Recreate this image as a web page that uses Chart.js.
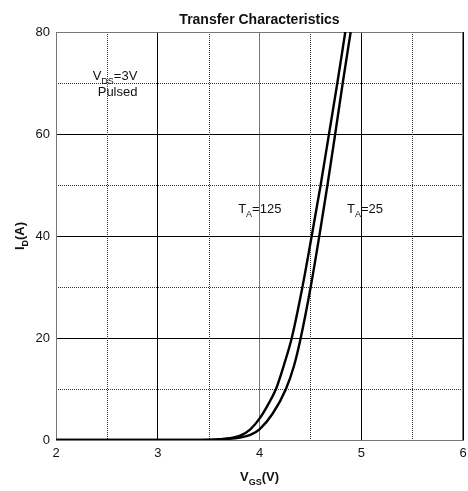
<!DOCTYPE html>
<html>
<head>
<meta charset="utf-8">
<script src="https://cdn.jsdelivr.net/npm/chart.js@4/dist/chart.umd.min.js"></script>
<style>
  html, body { margin: 0; padding: 0; background: #fff; }
  #wrap { width: 468px; height: 491px; }
</style>
</head>
<body>
<div id="wrap"><canvas id="myChart" width="468" height="491"></canvas></div>
<script>
// V_GS (V) / I_D (A) points for each ambient temperature
const vgs125 = [2.0, 3.0, 3.4, 3.61, 3.81, 3.91, 4.0, 4.08, 4.162, 4.24, 4.317, 4.422, 4.513, 4.601, 4.683, 4.765, 4.843];
const id125  = [0,   0,   0.02, 0.15, 0.85, 2.1, 4.2, 6.8, 10,   14.7, 20,    30,    40,    50,    60,    70,    80];
const vgs25  = [2.0, 3.0, 3.45, 3.61, 3.81, 3.91, 4.0, 4.13, 4.26, 4.34, 4.405, 4.503, 4.588, 4.668, 4.744, 4.818, 4.896];
const id25   = [0,   0,   0.02, 0.1,  0.5,  1.0,  2.1, 5.2,  10,   14.6, 20,    30,    40,    50,    60,    70,    80];

const xTicks = [2, 3, 4, 5, 6];
const yTicks = [0, 20, 40, 60, 80];
const xMinor = [2.5, 3.5, 4.5, 5.5];
const yMinor = [10, 30, 50, 70];

function toPoints(xs, ys){
  let out = [];
  for(let i=0; i<xs.length; i++){
    out.push({x: xs[i], y: ys[i]});
  }
  return out;
}

// draws text pieces, some of them as subscripts
function subText(ctx, x, y, parts, size, bold){
  let cx = x;
  for(const p of parts){
    const s = p[1] ? Math.round(size*0.7) : size;
    ctx.font = (bold ? 'bold ' : '') + s + 'px "Liberation Sans", Arial, sans-serif';
    ctx.fillText(p[0], cx, p[1] ? y + size*0.3 : y);
    cx += ctx.measureText(p[0]).width;
  }
  return cx - x;
}

function subWidth(ctx, parts, size, bold){
  let w = 0;
  for(const p of parts){
    const s = p[1] ? Math.round(size*0.7) : size;
    ctx.font = (bold ? 'bold ' : '') + s + 'px "Liberation Sans", Arial, sans-serif';
    w += ctx.measureText(p[0]).width;
  }
  return w;
}

const minorGrid = {
  id: 'minorGrid',
  beforeDatasetsDraw(chart){
    const ctx = chart.ctx;
    const a = chart.chartArea;
    const sx = chart.scales.x, sy = chart.scales.y;
    ctx.save();
    ctx.strokeStyle = '#333';
    ctx.lineWidth = 1;
    ctx.setLineDash([1, 1]);
    ctx.beginPath();
    xMinor.forEach(v=>{
      const px = Math.round(sx.getPixelForValue(v)) + 0.5;
      ctx.moveTo(px, a.top); ctx.lineTo(px, a.bottom);
    });
    yMinor.forEach(v=>{
      const py = Math.round(sy.getPixelForValue(v)) + 0.5;
      ctx.moveTo(a.left, py); ctx.lineTo(a.right, py);
    });
    ctx.stroke();
    ctx.restore();
  }
};

const labels = {
  id: 'labels',
  afterDraw(chart){
    const ctx = chart.ctx;
    const a = chart.chartArea;
    const sx = chart.scales.x, sy = chart.scales.y;
    ctx.save();
    ctx.fillStyle = '#111';
    ctx.textBaseline = 'alphabetic';
    ctx.textAlign = 'left';

    // title
    ctx.font = 'bold 14px "Liberation Sans", Arial, sans-serif';
    ctx.textAlign = 'center';
    ctx.fillText('Transfer Characteristics', (a.left + a.right)/2, 24);
    ctx.textAlign = 'left';

    // x axis title
    const xt = [['V', false], ['GS', true], ['(V)', false]];
    const xw = subWidth(ctx, xt, 13, true);
    subText(ctx, (a.left + a.right)/2 - xw/2, 481, xt, 13, true);

    // y axis title, rotated
    const yt = [['I', false], ['D', true], ['(A)', false]];
    const yw = subWidth(ctx, yt, 13, true);
    ctx.save();
    ctx.translate(24, (a.top + a.bottom)/2 + yw/2);
    ctx.rotate(-Math.PI/2);
    subText(ctx, 0, 0, yt, 13, true);
    ctx.restore();

    // notes inside the plot
    subText(ctx, sx.getPixelForValue(2.36), sy.getPixelForValue(70.6), [['V', false], ['DS', true], ['=3V', false]], 13, false);
    ctx.font = '13px "Liberation Sans", Arial, sans-serif';
    ctx.fillText('Pulsed', sx.getPixelForValue(2.41), sy.getPixelForValue(67.4));
    subText(ctx, sx.getPixelForValue(3.79), sy.getPixelForValue(44.5), [['T', false], ['A', true], ['=125', false]], 13, false);
    subText(ctx, sx.getPixelForValue(4.86), sy.getPixelForValue(44.5), [['T', false], ['A', true], ['=25', false]], 13, false);
    ctx.restore();
  }
};

const tickFont = {family: '"Liberation Sans", Arial, sans-serif', size: 13};

new Chart(document.getElementById('myChart').getContext('2d'), {
  type: 'scatter',
  data: {
    datasets: [
      {label: 'TA=125', data: toPoints(vgs125, id125)},
      {label: 'TA=25', data: toPoints(vgs25, id25)}
    ].map(d=>Object.assign(d, {
      showLine: true,
      borderColor: '#000',
      borderWidth: 2.4,
      pointRadius: 0,
      cubicInterpolationMode: 'monotone',
      fill: false
    }))
  },
  options: {
    responsive: false,
    animation: false,
    layout: {padding: {top: 32, right: 5, left: 0, bottom: 0}},
    plugins: {legend: {display: false}, tooltip: {enabled: false}},
    scales: {
      x: {
        type: 'linear', min: 2, max: 6,
        afterBuildTicks: s=>{ s.ticks = xTicks.map(v=>({value: v})); },
        afterFit: s=>{ s.height = 51; s.paddingLeft = 0; s.paddingRight = 0; },
        ticks: {color: '#111', font: tickFont, padding: 6, maxRotation: 0},
        grid: {drawTicks: false, color: c=> c.tick && c.tick.value === 4 ? '#777' : '#000', lineWidth: 1},
        border: {color: '#777', width: 1}
      },
      y: {
        type: 'linear', min: 0, max: 80,
        afterBuildTicks: s=>{ s.ticks = yTicks.map(v=>({value: v})); },
        afterFit: s=>{ s.width = 56; s.paddingTop = 0; s.paddingBottom = 0; },
        ticks: {color: '#111', font: tickFont, padding: 6},
        grid: {drawTicks: false, color: '#000', lineWidth: 1},
        border: {color: '#777', width: 1}
      }
    }
  },
  plugins: [minorGrid, labels, {
    id: 'frame',
    beforeDatasetsDraw(chart){
      const a = chart.chartArea, ctx = chart.ctx;
      ctx.save();
      ctx.strokeStyle = '#777';
      ctx.lineWidth = 1;
      ctx.strokeRect(Math.round(a.left)+0.5, Math.round(a.top)+0.5, Math.round(a.right - a.left) - 1, Math.round(a.bottom - a.top));
      ctx.restore();
    }
  }]
});
</script>
</body>
</html>
